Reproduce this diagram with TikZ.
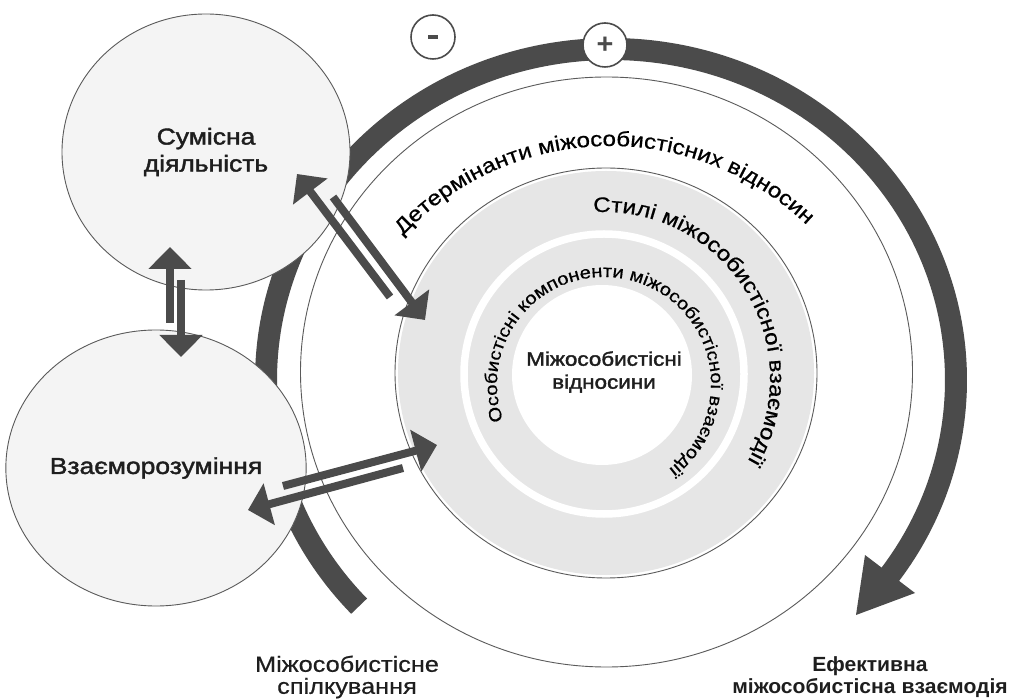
\documentclass[tikz,border=0pt]{standalone}
\usepackage{fontspec}
\setmainfont{Liberation Sans}[FakeStretch=1.15]
\newfontfamily\medfont{Liberation Sans}[FakeStretch=1.15, FakeBold=1.8]
\newfontfamily\ringfont{Liberation Sans}[FakeStretch=1.15, FakeBold=0.6]
\newfontfamily\headfont{Liberation Sans Bold}[FakeStretch=1.03]
\usetikzlibrary{arrows.meta,shapes.geometric,decorations.text}
\definecolor{band}{HTML}{4B4B4B}
\definecolor{rim}{HTML}{5A5A5A}
\definecolor{bubble}{HTML}{F4F4F4}
\definecolor{ringgrey}{HTML}{E6E6E6}
\definecolor{ink}{HTML}{1E1E1E}
\begin{document}
\begin{tikzpicture}[x=1pt,y=1pt,
  bubblenode/.style={ellipse, draw=rim, line width=0.9pt, fill=bubble, inner sep=0pt,
    minimum width=288pt, minimum height=276pt, align=center, text=ink},
  linkarrow/.style={draw=band, line width=8pt, -{Triangle[width=42pt,length=22pt]}},
  signnode/.style={circle, draw=band, line width=1.6pt, fill=white, minimum size=44pt,
    inner sep=0pt, text=band},
  ringtext/.style={decorate, decoration={text along path, text align=center, text={#1}}},
]
\useasboundingbox (0,0) rectangle (1011,699);
\fill[white] (0,0) rectangle (1011,699);

% feedback band with its head
\draw[band, line width=22pt] (611,319) ++(223.1:345 and 331)
  arc[start angle=223.1, end angle=-36.5, x radius=345, y radius=331];
\fill[band] (915,106) -- (865,144) -- (856,84) -- cycle;

% signs on the band
\node[signnode] (minus) at (433,662) {};
\fill[band] (minus.center) ++(-5,-1.8) rectangle ++(10,3.6);
\node[signnode, font=\headfont\fontsize{28}{28}\selectfont] (plus) at (605,654) {+};

% concentric levels
\node[ellipse, draw=rim, line width=0.9pt, minimum width=612pt, minimum height=590pt,
  inner sep=0pt] (outer) at (606.5,327) {};
\node[ellipse, draw=rim, line width=0.9pt, fill=white, minimum width=422pt,
  minimum height=410pt, inner sep=0pt] (styles) at (606,326) {};
\fill[ringgrey] (606,326) ellipse[x radius=208, y radius=202];
\draw[white, line width=7.5pt] (604,325) circle[radius=140];
\fill[white] (602,324) circle[radius=90];
\node[font=\medfont\fontsize{19.5}{23}\selectfont, align=center, text=ink] (core) at (604,327)
  {Міжособистісні\\відносини};

% texts along the rings
\path[ringtext={|\ringfont\fontsize{21}{21}\selectfont|Детермінанти міжособистісних відносин}]
  (610,269) ++(241.5:284) arc[start angle=241.5, end angle=-58.5, radius=284];
\path[ringtext={|\ringfont\fontsize{21}{21}\selectfont|Стилі міжособистісної взаємодії}]
  (604,321) ++(181.7:166) arc[start angle=181.7, end angle=-118.3, radius=166];
\path[ringtext={|\ringfont\fontsize{17.5}{17.5}\selectfont|Особистісні компоненти міжособистісної взаємодії}]
  (604,315) ++(223.4:107) arc[start angle=223.4, end angle=-76.6, radius=107];

% side bubbles
\node[bubblenode, font=\medfont\fontsize{23}{27}\selectfont] (joint) at (206,547)
  {Сумісна\\діяльність};
\node[bubblenode, font=\medfont\fontsize{23}{27}\selectfont] (mutual) at (156,231)
  {Взаєморозуміння};

% paired links
\coordinate (jm-from) at (170,376);  \coordinate (jm-to) at (170,452);
\coordinate (mj-from) at (181,419);  \coordinate (mj-to) at (181,342);
\coordinate (sj-from) at (390,402);  \coordinate (sj-to) at (297,525);
\coordinate (js-from) at (333,502);  \coordinate (js-to) at (425,379);
\coordinate (sm-from) at (403,231);  \coordinate (sm-to) at (248,189);
\coordinate (ms-from) at (283,213);  \coordinate (ms-to) at (437,254);
\draw[linkarrow] (jm-from) -- (jm-to);
\draw[linkarrow] (mj-from) -- (mj-to);
\draw[linkarrow] (sj-from) -- (sj-to);
\draw[linkarrow] (js-from) -- (js-to);
\draw[linkarrow] (sm-from) -- (sm-to);
\draw[linkarrow] (ms-from) -- (ms-to);

% outcome labels
\node[font=\ringfont\fontsize{22}{22}\selectfont, align=center, text=ink] (talk) at (347,22)
  {Міжособистісне\\спілкування};
\node[font=\headfont\fontsize{20.5}{22}\selectfont, align=center, text=ink] (effect) at (870,22)
  {Ефективна\\міжособистісна взаємодія};
\end{tikzpicture}
\end{document}
